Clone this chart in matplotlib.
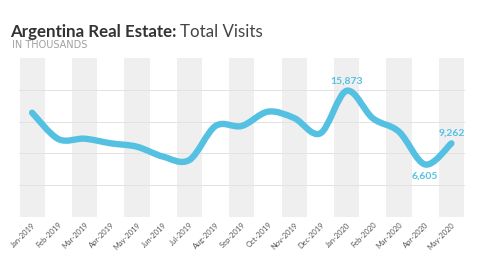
import matplotlib.pyplot as plt
import numpy as np
from matplotlib.path import Path
from matplotlib.patches import PathPatch

months = ['Jan-2019', 'Feb-2019', 'Mar-2019', 'Apr-2019', 'May-2019', 'Jun-2019',
          'Jul-2019', 'Aug-2019', 'Sep-2019', 'Oct-2019', 'Nov-2019', 'Dec-2019',
          'Jan-2020', 'Feb-2020', 'Mar-2020', 'Apr-2020', 'May-2020']
visits = [13120, 9810, 9850, 9270, 8840, 7590, 7170, 11450, 11450,
          13250, 12450, 10530, 15873, 12420, 10730, 6605, 9262]
labelled = {12: '15,873', 15: '6,605', 16: '9,262'}

blue = '#55c1e2'

fig = plt.figure(figsize=(4.8, 2.7), dpi=100)
ax = fig.add_axes([19 / 480, 53 / 270, 445.5 / 480, 159 / 270])

x = np.arange(len(months))
y = np.array(visits, dtype=float)

for i in range(0, len(months), 2):
    ax.axvspan(i - 0.48, i + 0.48, color='#efefef', lw=0, zorder=0)

for g in [4000, 8000, 12000, 16000]:
    ax.axhline(g, color='#e2e2e2', lw=0.7, zorder=1)

# smooth curve (catmull-rom -> bezier) through the data points
pts = np.column_stack([x, y])
ext = np.vstack([pts[0], pts, pts[-1]])
verts = [tuple(pts[0])]
codes = [Path.MOVETO]
for i in range(len(pts) - 1):
    p0, p1, p2, p3 = ext[i], ext[i + 1], ext[i + 2], ext[i + 3]
    c1 = p1 + (p2 - p0) / 6
    c2 = p2 - (p3 - p1) / 6
    verts += [tuple(c1), tuple(c2), tuple(p2)]
    codes += [Path.CURVE4] * 3
ax.add_patch(PathPatch(Path(verts, codes), fill=False, edgecolor=blue, lw=4.6,
                       capstyle='round', joinstyle='round', zorder=3))

ax.text(12, visits[12] + 700, labelled[12], color=blue, fontsize=7.5, fontweight='bold',
        ha='center', va='bottom', family='Lato')
ax.text(15, visits[15] - 900, labelled[15], color=blue, fontsize=7.5, fontweight='bold',
        ha='center', va='top', family='Lato')
ax.text(16, visits[16] + 700, labelled[16], color=blue, fontsize=7.5, fontweight='bold',
        ha='center', va='bottom', family='Lato')

ax.set_xlim(-0.5, 16.5)
ax.set_ylim(0, 20000)
ax.set_xticks(x)
ax.set_xticklabels(months, rotation=45, ha='right', rotation_mode='anchor',
                   fontsize=5.4, color='#555555', family='Lato')
ax.tick_params(axis='x', length=0, pad=3)
ax.set_yticks([])
for s in ax.spines.values():
    s.set_visible(False)

t1 = fig.text(10 / 480, 1 - 37 / 270, 'Argentina Real Estate:', fontsize=12.2,
              fontweight='bold', color='#333333', family='Lato')
fig.canvas.draw()
bb = t1.get_window_extent()
fig.text(bb.x1 / 480 + 4 / 480, 1 - 37 / 270, 'Total Visits', fontsize=12.2,
         color='#444444', family='Lato')
fig.text(12 / 480, 1 - 48 / 270, 'IN THOUSANDS', fontsize=7, color='#a0a0a0',
         family='DejaVu Sans')

fig.savefig('out.png', dpi=100)
